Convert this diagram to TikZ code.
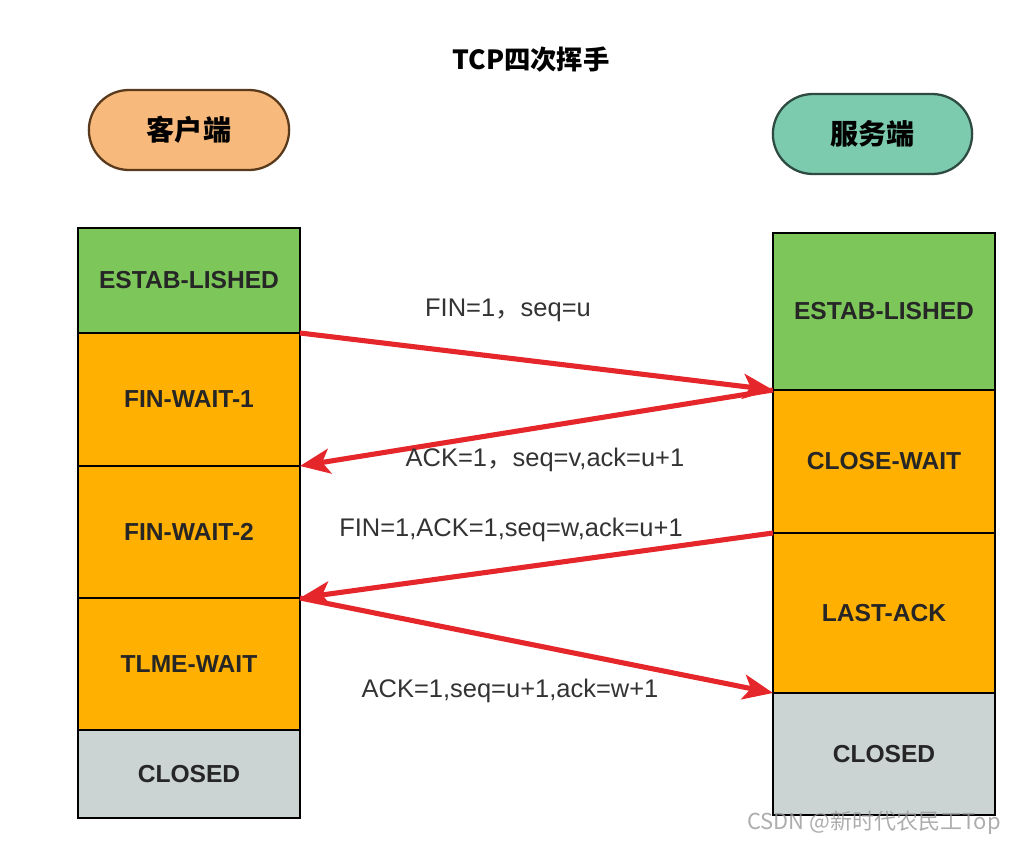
\documentclass[tikz,border=0pt]{standalone}
\usepackage{fontspec}
\setmainfont{Liberation Sans}
\newfontfamily\cjk{Noto Sans CJK SC}
\usepackage{tikz}
\usetikzlibrary{shapes,arrows.meta}
\definecolor{estgreen}{HTML}{7DC75A}
\definecolor{waitorange}{HTML}{FFB000}
\definecolor{closegray}{HTML}{CBD3D3}
\definecolor{clientpill}{HTML}{F8BA7C}
\definecolor{serverpill}{HTML}{7CCBAF}
\definecolor{msgred}{HTML}{E5262B}
\tikzset{
  state/.style={rectangle, draw=black, line width=1pt, outer sep=0pt, minimum width=4.44cm, font=\fontsize{14}{16}\selectfont\bfseries, text=black!85},
  peer/.style={rounded rectangle, line width=1.3pt, minimum height=1.6cm, font=\cjk\fontsize{16}{18}\selectfont\bfseries},
  msg/.style={-{Stealth[length=6mm,width=5mm,inset=1.5mm]}, line width=2.9pt, msgred},
  msglabel/.style={font=\fontsize{14.5}{16}\selectfont, text=black!80}
}
\newcommand{\tcpstate}[5] {\node at (#1) (#2) [state, fill=#3, minimum height=#4] {#5};}
\newcommand{\tcpmsg}[2] {\draw [msg] (#1) -- (#2);}

\begin{document}
\begin{tikzpicture}[x=0.02cm, y=-0.02cm]
\useasboundingbox (0,0) rectangle (1022,851);

\node at (531,60) (title) [font=\cjk\fontsize{15}{18}\selectfont\bfseries] {TCP四次挥手};

\node at (189,130) (client) [peer, minimum width=4.24cm, fill=clientpill, draw={rgb,255:red,90;green,58;blue,28}] {客户端};
\node at (872.5,134) (server) [peer, minimum width=4.22cm, fill=serverpill, draw={rgb,255:red,45;green,75;blue,65}] {服务端};

% client side
\tcpstate {189,280.5}{cestab}{estgreen}{2.1cm}{ESTAB-LISHED}
\tcpstate {189,399.5}{cfinone}{waitorange}{2.66cm}{FIN-WAIT-1}
\tcpstate {189,532}{cfintwo}{waitorange}{2.64cm}{FIN-WAIT-2}
\tcpstate {189,664}{ctime}{waitorange}{2.64cm}{TLME-WAIT}
\tcpstate {189,774}{cclosed}{closegray}{1.76cm}{CLOSED}

% server side
\tcpstate {884,311.5}{sestab}{estgreen}{3.14cm}{ESTAB-LISHED}
\tcpstate {884,461.5}{sclose}{waitorange}{2.86cm}{CLOSE-WAIT}
\tcpstate {884,613}{slast}{waitorange}{3.2cm}{LAST-ACK}
\tcpstate {884,754}{sclosed}{closegray}{2.44cm}{CLOSED}

% messages
\tcpmsg {cestab.south east}{sestab.south west}
\tcpmsg {sestab.south west}{cfinone.south east}
\tcpmsg {sclose.south west}{cfintwo.south east}
\tcpmsg {cfintwo.south east}{slast.south west}

\node at (508,310) (finone) [msglabel] {FIN=1{\cjk ，}seq=u};
\node at (545,460) (ackone) [msglabel] {ACK=1{\cjk ，}seq=v,ack=u+1};
\node at (511,530) (fintwo) [msglabel] {FIN=1,ACK=1,seq=w,ack=u+1};
\node at (510,691) (acktwo) [msglabel] {ACK=1,seq=u+1,ack=w+1};

\node at (874,823) (mark) [font=\cjk\fontsize{12.5}{15}\selectfont, text=black!40, opacity=0.8] {CSDN @新时代农民工Top};
\end{tikzpicture}
\end{document}
